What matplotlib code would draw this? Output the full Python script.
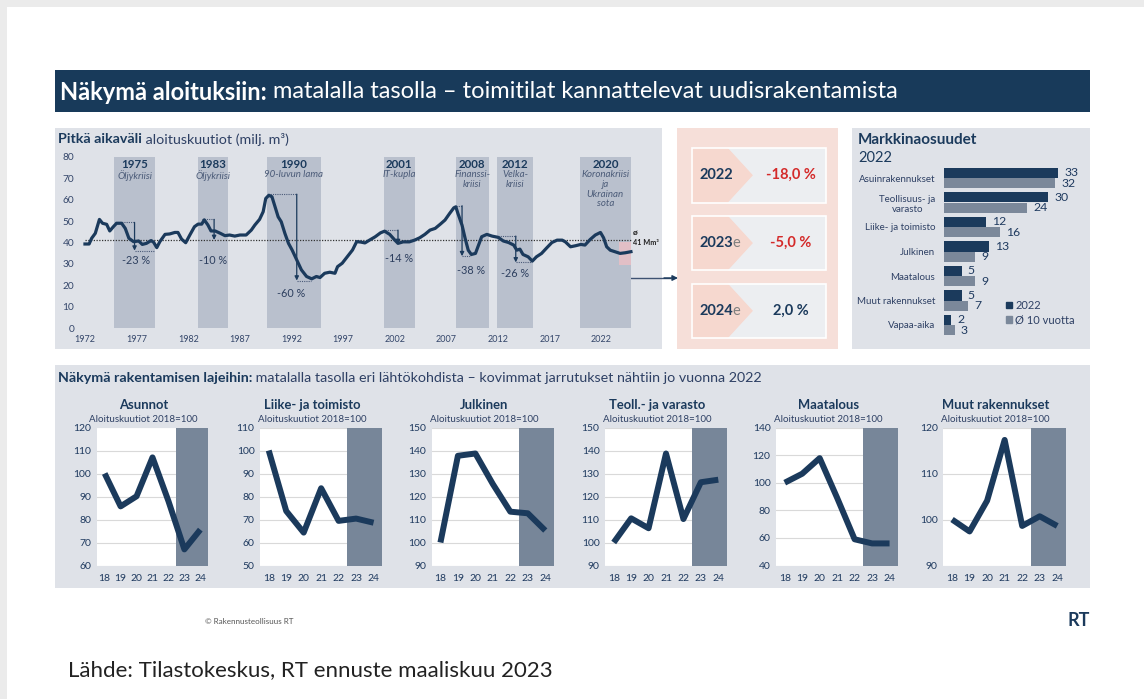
import matplotlib
matplotlib.use('Agg')
import matplotlib.pyplot as plt
from matplotlib.patches import Rectangle, Polygon, Patch

W, H = 1144, 699
plt.rcParams['font.family'] = ['Lato', 'DejaVu Sans']

# ---------------- DATA ----------------
lt_years = [1972.0, 1972.4, 1972.65, 1973.0, 1973.4, 1973.7, 1974.1, 1974.4, 1974.75, 1975.06,
            1975.55, 1975.9, 1976.25, 1976.7, 1977.2, 1977.55, 1977.95, 1978.4, 1978.65, 1978.95,
            1979.25, 1979.75, 1980.2, 1980.7, 1981.0, 1981.35, 1981.75, 1982.15, 1982.6, 1982.95,
            1983.3, 1983.55, 1983.9, 1984.2, 1984.6, 1985.1, 1985.55, 1986.0, 1986.5, 1987.0,
            1987.6, 1988.1, 1988.45, 1988.9, 1989.25, 1989.5, 1989.8, 1990.1, 1990.4, 1990.7,
            1991.0, 1991.35, 1991.7, 1992.05, 1992.5, 1992.95, 1993.45, 1993.95, 1994.4, 1994.75,
            1995.2, 1995.7, 1996.2, 1996.45, 1996.9, 1997.4, 1997.9, 1998.3, 1998.7, 1999.1,
            1999.4, 2000.1, 2000.6, 2001.0, 2001.5, 2002.0, 2002.3, 2002.8, 2003.4, 2003.9,
            2004.4, 2004.9, 2005.4, 2005.9, 2006.4, 2006.85, 2007.3, 2007.7, 2007.9, 2008.1,
            2008.5, 2008.8, 2009.1, 2009.4, 2009.8, 2010.1, 2010.4, 2010.9, 2011.4, 2012.0,
            2012.5, 2013.0, 2013.5, 2013.8, 2014.1, 2014.4, 2014.9, 2015.3, 2015.7, 2016.2,
            2016.7, 2017.2, 2017.7, 2018.2, 2018.5, 2019.0, 2019.5, 2020.0, 2020.4, 2020.9,
            2021.4, 2021.9, 2022.2, 2022.5, 2022.85, 2023.3, 2023.8, 2024.3, 2024.85]
lt_values = [39.3, 39.3, 42.0, 44.3, 50.8, 49.0, 48.5, 45.4, 47.4, 49.0,
             49.0, 46.6, 42.0, 40.4, 40.7, 39.1, 39.6, 40.9, 40.1, 37.6,
             40.4, 43.8, 44.0, 44.7, 44.7, 41.6, 39.9, 43.5, 47.4, 48.6,
             48.6, 50.6, 48.2, 45.4, 45.4, 44.3, 43.2, 43.5, 43.0, 43.5,
             43.5, 45.8, 48.2, 50.8, 54.4, 60.6, 62.1, 61.4, 56.7, 52.0,
             49.7, 44.3, 39.6, 36.5, 31.8, 27.2, 24.1, 23.0, 24.1, 23.6,
             25.6, 26.1, 25.6, 28.7, 30.3, 33.4, 36.5, 40.4, 40.2, 39.8,
             40.7, 42.7, 44.5, 45.3, 43.8, 41.1, 39.6, 40.3, 40.3, 41.1,
             42.2, 43.8, 45.8, 46.6, 48.6, 50.5, 53.6, 56.2, 56.7, 53.6,
             48.1, 41.9, 36.4, 34.4, 34.9, 38.8, 42.7, 43.8, 43.0, 42.4,
             40.7, 40.0, 38.8, 36.4, 36.9, 34.4, 33.3, 31.3, 33.3, 34.9,
             37.5, 40.0, 41.1, 41.1, 40.3, 38.0, 38.5, 39.1, 38.8, 41.4,
             43.5, 44.7, 42.2, 38.0, 36.4, 35.7, 34.9, 35.2, 35.7]
lt_mean = 41
forecast_span = (2023.7, 2024.85, 29.4, 40.3)

band_start = [1974.8, 1982.9, 1989.6, 2000.9, 2007.9, 2011.9, 2019.9]
band_end = [1978.8, 1985.8, 1994.85, 2003.9, 2011.1, 2015.4, 2024.85]
band_year = ['1975', '1983', '1990', '2001', '2008', '2012', '2020']
band_name = ['Öljykriisi', 'Öljykriisi', '90-luvun lama', 'IT-kupla', 'Finanssi-\nkriisi',
             'Velka-\nkriisi', 'Koronakriisi\nja\nUkrainan\nsota']

drop_peak_x = [1974.9, 1983.3, 1989.75, 2001.0, 2007.9, 2012.0]
drop_arrow_x = [1976.8, 1984.5, 1992.5, 2002.3, 2008.5, 2013.7]
drop_peak_y = [49.4, 50.8, 62.6, 45.8, 57.2, 43.0]
drop_trough_y = [36.2, 41.2, 22.2, 39.3, 33.6, 30.7]
drop_trough_x = [1978.8, None, 1993.9, None, 2009.4, 2015.2]
drop_pct = [-23, -10, -60, -14, -38, -26]
drop_label_xy = [(1976.9, 31.5), (1984.4, 31.4), (1992.0, 16.3), (2002.4, 32.6), (2009.4, 26.8), (2013.65, 25.4)]

forecast_year = ['2022', '2023', '2024']
forecast_suffix = ['', 'e', 'e']
forecast_change = [-18.0, -5.0, 2.0]

share_categories = ['Asuinrakennukset', 'Teollisuus- ja\nvarasto', 'Liike- ja toimisto', 'Julkinen',
                    'Maatalous', 'Muut rakennukset', 'Vapaa-aika']
share_2022 = [33, 30, 12, 13, 5, 5, 2]
share_10y = [32, 24, 16, 9, 9, 7, 3]

small_years = [18, 19, 20, 21, 22, 23, 24]
small_titles = ['Asunnot', 'Liike- ja toimisto', 'Julkinen', 'Teoll.- ja varasto', 'Maatalous', 'Muut rakennukset']
asunnot = [100, 85.7, 90.1, 107, 88, 67, 75.6]
liike = [100, 73.7, 64.3, 83.6, 69.4, 70.4, 68.6]
julkinen = [100, 137.7, 138.7, 125.4, 113.4, 112.7, 105.2]
teoll = [100, 110.5, 106.2, 138.7, 110.2, 126.2, 127.3]
maatalous = [100, 106.5, 117.8, 89, 59, 56, 56]
muut = [100, 97.4, 104.1, 117.3, 98.6, 100.7, 98.6]
small_series = [asunnot, liike, julkinen, teoll, maatalous, muut]
small_yticks = [(60, 120, 10), (50, 110, 10), (90, 150, 10), (90, 150, 10), (40, 140, 20), (90, 120, 10)]

# ---------------- STYLE ----------------
NAVY = '#1b3a5c'
PANEL = '#dfe2e8'
BAND = '#b9c0cd'
TICK = '#34466a'
SLATE = '#778699'
BAR2 = '#7b889a'

fig = plt.figure(figsize=(W / 100, H / 100), dpi=100)
fig.patch.set_facecolor('white')

bg = fig.add_axes([0, 0, 1, 1], zorder=-10)
bg.set_xlim(0, W)
bg.set_ylim(H, 0)
bg.axis('off')


def px_axes(x0, y0, x1, y1, **kw):
    return fig.add_axes([x0 / W, 1 - y1 / H, (x1 - x0) / W, (y1 - y0) / H], **kw)


def two_part(x, y, bold, regular, size, color, color2=None):
    t = bg.text(x, y, bold, fontsize=size, weight='bold', color=color, ha='left', va='center')
    r = fig.canvas.get_renderer()
    bb = t.get_window_extent(renderer=r)
    xe = bg.transData.inverted().transform((bb.x1, bb.y0))[0]
    bg.text(xe, y, regular, fontsize=size, color=color2 or color, ha='left', va='center')


# frame strips
bg.add_patch(Rectangle((0, 0), W, 7, color='#ebebeb', lw=0))
bg.add_patch(Rectangle((0, 0), 7, H, color='#ebebeb', lw=0))

# header
bg.add_patch(Rectangle((55, 70), 1035, 42, color='#183a5a', lw=0))
two_part(60, 92, 'Näkymä aloituksiin:', ' matalalla tasolla – toimitilat kannattelevat uudisrakentamista', 17, 'white')

# panels
bg.add_patch(Rectangle((55, 127.5), 607, 221, color=PANEL, lw=0))
bg.add_patch(Rectangle((677, 127.5), 161, 221, color='#f6dfd9', lw=0))
bg.add_patch(Rectangle((852, 127.5), 238, 221, color=PANEL, lw=0))
bg.add_patch(Rectangle((55, 365), 1035, 223, color=PANEL, lw=0))

# ---------------- Long-term chart ----------------
two_part(58, 139, 'Pitkä aikaväli', ' aloituskuutiot (milj. m³)', 10.3, NAVY, '#2e4064')
ax1 = px_axes(79.8, 157, 635.6, 328)
ax1.set_facecolor('none')
ax1.set_xlim(1971.5, 2025.3)
ax1.set_ylim(0, 80)
for s in ax1.spines.values():
    s.set_visible(False)
ax1.set_yticks(range(0, 81, 10))
ax1.set_xticks(range(1972, 2023, 5))
ax1.tick_params(axis='y', length=0, labelsize=7.3, colors=TICK, pad=4)
ax1.tick_params(axis='x', length=0, labelsize=6.5, colors=TICK, pad=5)

for s0, s1, yr, nm in zip(band_start, band_end, band_year, band_name):
    ax1.axvspan(s0, s1, color=BAND, lw=0, zorder=0)
    c = (s0 + s1) / 2
    ax1.text(c, 76.3, yr, ha='center', va='center', fontsize=8.3, weight='bold', color=NAVY)
    ax1.text(c, 73.8, nm, ha='center', va='top', fontsize=7, style='italic', color='#4b5b78',
             linespacing=1.1)

fx0, fx1, fy0, fy1 = forecast_span
ax1.add_patch(Rectangle((fx0, fy0), fx1 - fx0, fy1 - fy0, color='#e2bfc6', lw=0, zorder=1))
ax1.hlines(lt_mean, lt_years[0], lt_years[-1], colors='#333333', linestyles=(0, (1, 1.2)), lw=0.9, zorder=2)
ax1.plot(lt_years, lt_values, color=NAVY, lw=2.3, zorder=4, solid_joinstyle='round')

for px, ax_, py, ty, tx, pct, (lx, ly) in zip(drop_peak_x, drop_arrow_x, drop_peak_y, drop_trough_y,
                                              drop_trough_x, drop_pct, drop_label_xy):
    ax1.plot([px, ax_], [py, py], ls=(0, (1, 1)), color='#4a5a78', lw=0.8, zorder=3)
    ax1.annotate('', xy=(ax_, ty), xytext=(ax_, py),
                 arrowprops=dict(arrowstyle='-|>', color=NAVY, lw=0.9, mutation_scale=6,
                                 shrinkA=0, shrinkB=0), zorder=3)
    if tx is not None:
        ax1.plot([ax_, tx], [ty, ty], ls=(0, (1, 1)), color='#4a5a78', lw=0.8, zorder=3)
    ax1.text(lx, ly, f'{pct} %', ha='center', va='center', fontsize=7.8, color='#2c3e5e')

ax1.text(2025.0, 44.7, 'ø', ha='left', va='center', fontsize=6, weight='bold', color='#222222')
ax1.text(2025.0, 40.0, f'{lt_mean} Mm³', ha='left', va='center', fontsize=5.2, weight='bold', color='#222222')

# connector arrow to forecast panel
bg.plot([625.5, 625.5, 670], [265, 278, 278], color='#3e5272', lw=1, zorder=3)
bg.annotate('', xy=(678, 278), xytext=(664, 278),
            arrowprops=dict(arrowstyle='-|>', color=NAVY, lw=1, mutation_scale=8, shrinkA=0, shrinkB=0),
            zorder=4)

# ---------------- Forecast boxes ----------------
for i, (yr, suf, chg) in enumerate(zip(forecast_year, forecast_suffix, forecast_change)):
    top = 148 + i * 67.8
    bot = top + 54.5
    mid = (top + bot) / 2
    bg.add_patch(Polygon([(691.5, top), (728, top), (753, mid), (728, bot), (691.5, bot)],
                         closed=True, color='#f6d8cf', lw=0, zorder=2))
    bg.add_patch(Polygon([(728, top), (826, top), (826, bot), (728, bot), (753, mid)],
                         closed=True, color='#eceef1', lw=0, zorder=2))
    bg.add_patch(Rectangle((691.5, top), 134.5, bot - top, fill=False, ec='white', lw=1.2, zorder=3))
    t = bg.text(699, mid, yr, ha='left', va='center', fontsize=10.5, weight='bold', color=NAVY, zorder=4)
    if suf:
        r = fig.canvas.get_renderer()
        bb = t.get_window_extent(renderer=r)
        xe = bg.transData.inverted().transform((bb.x1, bb.y0))[0]
        bg.text(xe, mid, suf, ha='left', va='center', fontsize=10.5, color='#7f7f7f', zorder=4)
    txt = f'{chg:.1f}'.replace('.', ',') + ' %'
    bg.text(791, mid, txt, ha='center', va='center', fontsize=10.5, weight='bold',
            color='#d42a2a' if chg < 0 else NAVY, zorder=4)

# ---------------- Market shares ----------------
bg.text(858, 140.5, 'Markkinaosuudet', ha='left', va='center', fontsize=11, weight='bold', color=NAVY)
bg.text(858, 157.5, '2022', ha='left', va='center', fontsize=10.5, color=NAVY)
ax3 = px_axes(944.3, 165.75, 1082.5, 337.25)
ax3.set_facecolor('none')
ax3.set_xlim(0, 40)
ax3.set_ylim(len(share_categories) - 0.5, -0.5)
ypos = list(range(len(share_categories)))
ax3.barh([y - 0.205 for y in ypos], share_2022, height=0.41, color=NAVY, lw=0)
ax3.barh([y + 0.205 for y in ypos], share_10y, height=0.41, color=BAR2, lw=0)
for y, a, b in zip(ypos, share_2022, share_10y):
    ax3.text(a + 1.8, y - 0.205, str(a), ha='left', va='center', fontsize=8.8, color='#1f3a5f')
    ax3.text(b + 1.8, y + 0.205, str(b), ha='left', va='center', fontsize=8.8, color='#1f3a5f')
ax3.set_yticks(ypos)
ax3.set_yticklabels(share_categories, multialignment='center')
ax3.set_xticks([])
ax3.tick_params(axis='y', length=0, labelsize=7, colors='#2e4064', pad=6.5)
for s in ax3.spines.values():
    s.set_visible(False)
fig.legend([Patch(color=NAVY), Patch(color=BAR2)], ['2022', 'Ø 10 vuotta'],
           loc='upper left', bbox_to_anchor=(1006 / W, 1 - 300 / H), bbox_transform=fig.transFigure,
           frameon=False, handlelength=0.5, handleheight=0.5, handletextpad=0.35, labelspacing=0.3,
           fontsize=8, borderpad=0, borderaxespad=0, labelcolor='#2e4064')

# ---------------- Small multiples ----------------
two_part(58, 377.5, 'Näkymä rakentamisen lajeihin:',
         ' matalalla tasolla eri lähtökohdista – kovimmat jarrutukset nähtiin jo vuonna 2022', 10.3, NAVY, '#2e4064')
boxes = [(96.7, 111.6), (260, 122.3), (431.7, 122.3), (605, 122), (776, 122.3), (943.3, 122.7)]
for (x0, w), title, series, (lo, hi, st) in zip(boxes, small_titles, small_series, small_yticks):
    ax = px_axes(x0, 427.5, x0 + w, 565.5)
    ax.set_facecolor('white')
    ax.set_xlim(17.5, 24.5)
    ax.set_ylim(lo, hi)
    ax.set_yticks(range(lo, hi + 1, st))
    ax.set_xticks(small_years)
    ax.grid(axis='y', color='#d9d9d9', lw=0.8)
    ax.set_axisbelow(True)
    ax.axvspan(22.5, 24.5, color=SLATE, lw=0, zorder=1)
    ax.plot(small_years, series, color=NAVY, lw=4.3, zorder=3, solid_capstyle='butt', solid_joinstyle='round')
    ax.tick_params(axis='y', length=0, labelsize=7.5, colors='#1f3a5f', pad=4)
    ax.tick_params(axis='x', length=0, labelsize=7.5, colors='#1f3a5f', pad=6)
    for s in ax.spines.values():
        s.set_visible(False)
    cx = x0 + w / 2 - 9
    bg.text(cx, 405, title, ha='center', va='center', fontsize=9.4, weight='bold', color=NAVY)
    bg.text(cx, 419, 'Aloituskuutiot 2018=100', ha='center', va='center', fontsize=7, color='#2e4064')

# ---------------- Footer ----------------
bg.text(205, 622, '© Rakennusteollisuus RT', ha='left', va='center', fontsize=5.8, color='#555555')
bg.text(1090, 620, 'RT', ha='right', va='center', fontsize=13, weight='bold', color=NAVY)
bg.text(68, 670, 'Lähde: Tilastokeskus, RT ennuste maaliskuu 2023', ha='left', va='center',
        fontsize=16, color='#222222')

fig.savefig('out.png', dpi=100, facecolor='white')
